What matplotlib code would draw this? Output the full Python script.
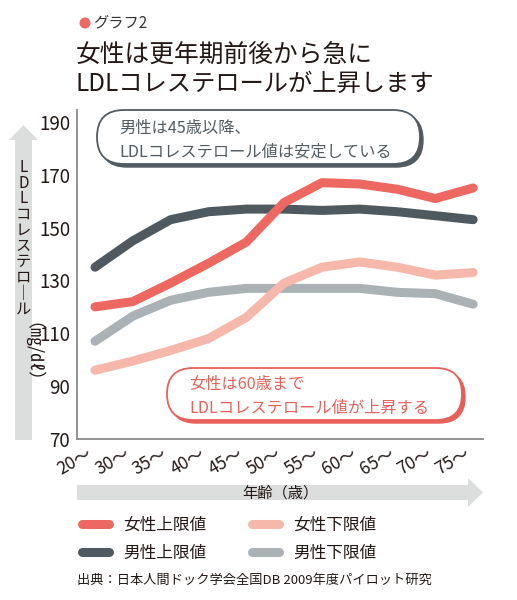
import matplotlib
matplotlib.use("Agg")
import matplotlib.pyplot as plt
from matplotlib.patches import FancyBboxPatch, FancyArrow, Circle

plt.rcParams['font.family'] = ['Noto Sans CJK JP', 'DejaVu Sans']

# data
ages = ['20〜', '30〜', '35〜', '40〜', '45〜', '50〜', '55〜', '60〜', '65〜', '70〜', '75〜']
female_upper = [120, 122, 129, 136.5, 144.5, 159.5, 167, 166.5, 164.5, 161, 165]
female_lower = [96, 99.5, 103.5, 108, 116, 129, 135, 137, 135, 132, 133]
male_upper = [135, 145, 153, 156, 157, 157, 156.5, 157, 156, 154.5, 153]
male_lower = [107, 116.5, 122.5, 125.5, 127, 127, 127, 127, 125.5, 125, 121]
yticks = [70, 90, 110, 130, 150, 170, 190]

C_FU = '#ec6860'
C_FL = '#f6b8aa'
C_MU = '#4f5a60'
C_ML = '#aab2b6'
TXT = '#231815'

fig = plt.figure(figsize=(5.17, 6.0), dpi=100)

# main plot, pixel box: x 77..483, y 110..439
ax = fig.add_axes([77 / 517, 161 / 600, 406 / 517, 329 / 600])
x = list(range(len(ages)))
lw = 6.5
kw = dict(lw=lw, solid_capstyle='round', solid_joinstyle='round')
ax.plot(x, male_lower, color=C_ML, label='男性下限値', **kw)
ax.plot(x, male_upper, color=C_MU, label='男性上限値', **kw)
ax.plot(x, female_lower, color=C_FL, label='女性下限値', **kw)
ax.plot(x, female_upper, color=C_FU, label='女性上限値', **kw)

ax.set_xlim(-0.476, 10.26)
ax.set_ylim(70, 194.5)
ax.set_yticks(yticks)
ax.set_xticks(x)
ax.set_xticklabels(ages, rotation=30, ha='right', fontsize=12.5, color=TXT)
ax.tick_params(axis='y', length=0, labelsize=13.5, colors=TXT, pad=5)
ax.tick_params(axis='x', length=0, pad=4)
for s in ['top', 'right']:
    ax.spines[s].set_visible(False)
for s in ['left', 'bottom']:
    ax.spines[s].set_color('#8a8a8a')
    ax.spines[s].set_linewidth(1.3)

# overlay in pixel coordinates for decorations
ov = fig.add_axes([0, 0, 1, 1])
ov.set_xlim(0, 517)
ov.set_ylim(600, 0)
ov.axis('off')

# header
ov.add_patch(Circle((85, 23), 4.8, color=C_FU))
ov.text(93, 23, 'グラフ2', fontsize=11, color='#333333', va='center')
ov.text(76, 55, '女性は更年期前後から急に', fontsize=17.8, color=TXT, va='center')
ov.text(76, 84, 'LDLコレステロールが上昇します', fontsize=17.5, color=TXT, va='center')


def pill(x0, y0, w, h, col, lines, tx, ty):
    style = 'round,pad=0,rounding_size=%g' % (h / 2)
    ov.add_patch(FancyBboxPatch((x0 + 3, y0 + 3), w, h, boxstyle=style,
                                facecolor=col, edgecolor=col, lw=1, zorder=5))
    ov.add_patch(FancyBboxPatch((x0, y0), w, h, boxstyle=style,
                                facecolor='white', edgecolor=col, lw=1.3, zorder=6))
    for i, ln in enumerate(lines):
        ov.text(tx, ty + i * 24, ln, fontsize=11.7, color=col, va='center', zorder=7)


pill(97, 110, 323, 54, '#515b61', ['男性は45歳以降、', 'LDLコレステロール値は安定している'], 119, 128)
pill(167, 368, 295, 52, '#e8605a', ['女性は60歳まで', 'LDLコレステロール値が上昇する'], 189, 384)

# y-axis arrow and vertical label
ov.add_patch(FancyArrow(23.5, 440, 0, -315, width=17, head_width=29, head_length=15,
                        length_includes_head=True, color='#dcdddd', lw=0))
ylab = 'LDLコレステロ｜ル'
ov.text(23.5, 159, '\n'.join(ylab), fontsize=11, color=TXT, ha='center', va='top',
        linespacing=0.9)
ov.text(23.5, 362, '（㎎/㎗）', fontsize=13, color=TXT, ha='center', va='center', rotation=-90)

# x-axis arrow
ov.add_patch(FancyArrow(77, 492.5, 406, 0, width=15, head_width=29, head_length=15,
                        length_includes_head=True, color='#dcdddd', lw=0))
ov.text(280, 493, '年齢（歳）', fontsize=11, color=TXT, ha='center', va='center')

# legend
h, l = ax.get_legend_handles_labels()
order = [3, 1, 2, 0]
fig.legend([h[i] for i in order], [l[i] for i in order], ncol=2,
           loc='upper left', bbox_to_anchor=(81.5 / 517, (600 - 517) / 600),
           frameon=False, fontsize=12, handlelength=1.62, handletextpad=0.87,
           columnspacing=2.73, labelspacing=0.65, borderpad=0, borderaxespad=0,
           labelcolor=TXT)

ov.text(77, 580, '出典：日本人間ドック学会全国DB 2009年度パイロット研究', fontsize=9.5,
        color=TXT, va='center')

fig.savefig('out.png', dpi=100)
